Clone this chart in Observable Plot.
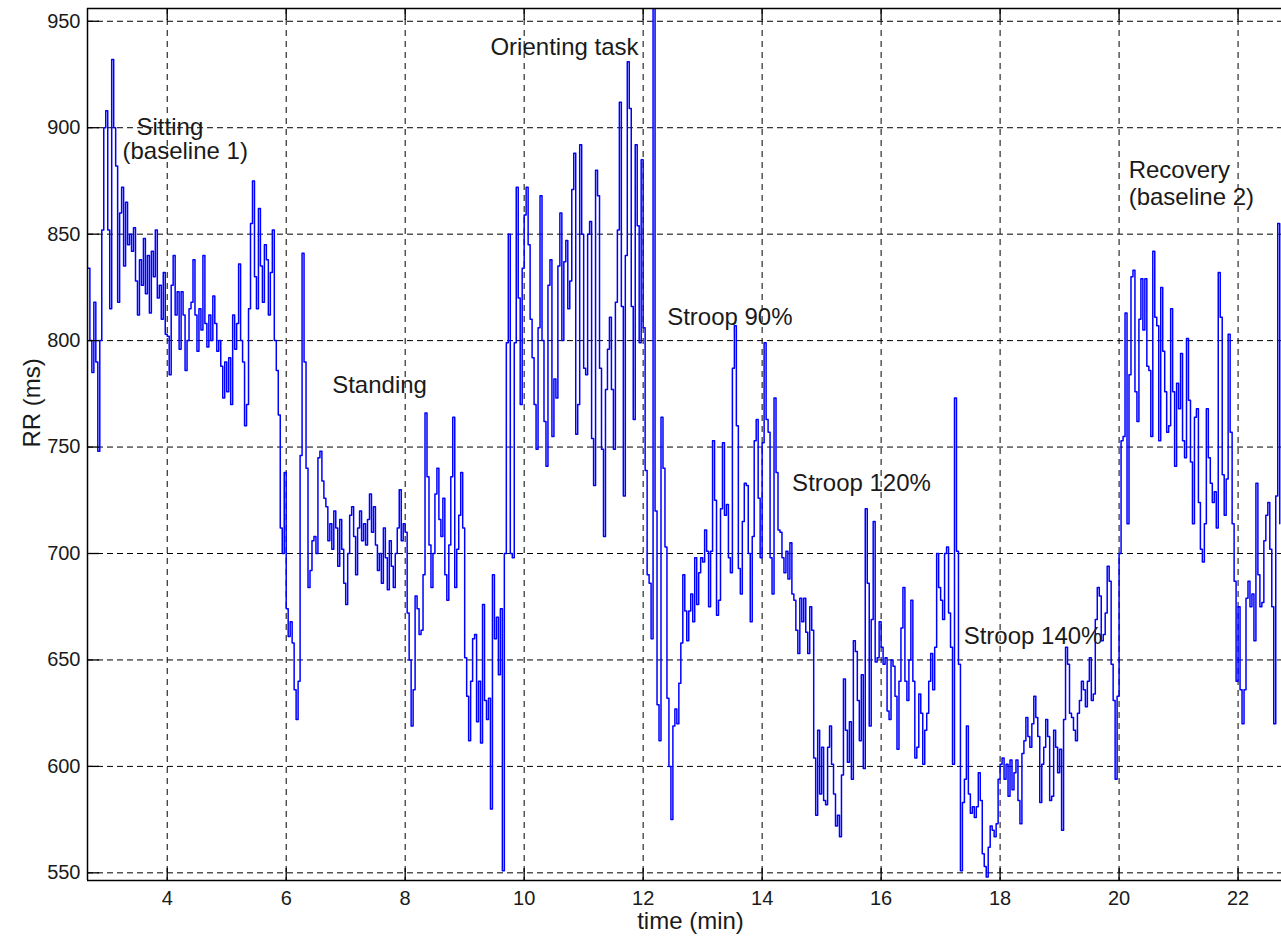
<!DOCTYPE html>
<html>
<head>
<meta charset="utf-8">
<title>RR tachogram</title>
<script src="https://cdn.jsdelivr.net/npm/d3@7"></script>
<script src="https://cdn.jsdelivr.net/npm/@observablehq/plot@0.6"></script>
<style>
  html, body { margin: 0; padding: 0; background: #ffffff; overflow: hidden; }
  #chart svg { display: block; }
</style>
</head>
<body>
<div id="chart"></div>
<script>
// RR intervals (ms), resampled every 2 s from 160 s onwards.
const startSeconds = 160;
const stepSeconds = 2;
const rrValues = [
  // 2.67 – 4 min
  834, 800, 785, 818, 790, 748, 800, 852, 900, 908, 852, 815, 932, 900, 882, 818, 860, 872, 835, 865,
  845, 850, 842, 853, 828, 812, 838, 826, 848, 822, 840, 813, 842, 830, 852, 820, 826, 810, 832, 803,
  // 4 – 5 min
  802, 784, 826, 840, 812, 823, 796, 823, 812, 786, 800, 815, 818, 838, 812, 795, 815, 805, 840, 808,
  797, 812, 800, 821, 808, 795, 800, 788, 773, 790,
  // 5 – 6 min
  776, 792, 770, 812, 796, 808, 836, 800, 790, 760, 770, 815, 855, 875, 830, 815, 862, 835, 818, 845,
  838, 812, 832, 852, 800, 786, 765, 712, 700, 738,
  // 6 – 7 min
  674, 661, 668, 658, 636, 622, 640, 746, 841, 790, 740, 684, 692, 706, 708, 700, 745, 748, 734, 726,
  722, 706, 714, 702, 720, 712, 694, 716, 702, 686,
  // 7 – 8 min
  676, 700, 718, 722, 708, 690, 712, 720, 706, 714, 704, 716, 728, 710, 722, 704, 692, 700, 686, 712,
  698, 683, 706, 694, 684, 700, 712, 730, 706, 714,
  // 8 – 9 min
  710, 672, 650, 619, 636, 680, 674, 662, 664, 690, 766, 736, 704, 684, 700, 728, 740, 716, 708, 726,
  690, 678, 704, 736, 764, 684, 702, 718, 738, 712,
  // 9 – 10 min
  651, 633, 612, 640, 660, 662, 621, 640, 611, 676, 631, 622, 632, 580, 690, 660, 670, 643, 674, 551,
  700, 799, 850, 700, 698, 799, 872, 820, 770, 834,
  // 10 – 11 min
  859, 872, 845, 810, 792, 770, 749, 806, 868, 800, 762, 741, 826, 838, 755, 782, 773, 835, 860, 800,
  837, 847, 815, 828, 871, 888, 756, 770, 892, 850,
  // 11 – 12 min
  787, 784, 850, 856, 754, 732, 880, 868, 787, 749, 708, 777, 796, 811, 777, 749, 818, 852, 912, 816,
  727, 840, 931, 909, 816, 763, 892, 854, 799, 885,
  // 12 – 13 min
  806, 739, 690, 686, 660, 958, 720, 629, 612, 764, 740, 703, 632, 600, 575, 619, 627, 620, 639, 658,
  690, 673, 659, 673, 681, 668, 698, 676, 691, 698,
  // 13 – 14 min
  696, 711, 701, 675, 701, 753, 725, 671, 678, 721, 752, 718, 723, 698, 691, 787, 807, 760, 693, 681,
  715, 733, 732, 700, 668, 708, 753, 763, 726, 698,
  // 14 – 15 min
  752, 799, 763, 757, 698, 681, 773, 738, 711, 710, 698, 691, 701, 688, 705, 681, 678, 664, 653, 679,
  668, 679, 663, 653, 675, 664, 604, 577, 617, 587,
  // 15 – 16 min
  609, 584, 582, 609, 619, 601, 587, 572, 577, 567, 596, 641, 617, 602, 621, 594, 659, 654, 631, 612,
  643, 599, 721, 686, 619, 669, 715, 649, 651, 668,
  // 16 – 17 min
  656, 648, 651, 626, 622, 650, 647, 633, 608, 640, 665, 684, 640, 631, 650, 678, 640, 604, 609, 634,
  625, 601, 617, 625, 640, 653, 636, 656, 700, 684,
  // 17 – 18 min
  678, 669, 700, 703, 672, 656, 601, 773, 701, 648, 551, 583, 594, 619, 587, 578, 581, 576, 581, 597,
  584, 559, 553, 548, 562, 572, 570, 567, 573, 594,
  // 18 – 19 min
  601, 604, 594, 601, 586, 603, 589, 597, 603, 584, 573, 606, 612, 623, 614, 609, 620, 633, 623, 614,
  583, 601, 609, 622, 614, 584, 586, 617, 609, 597,
  // 19 – 20 min
  608, 570, 622, 656, 648, 625, 623, 617, 612, 625, 631, 640, 636, 628, 640, 651, 631, 634, 669, 684,
  680, 659, 662, 672, 694, 687, 648, 631, 594, 633,
  // 20 – 21 min
  700, 753, 755, 813, 714, 784, 830, 833, 776, 762, 810, 829, 805, 829, 788, 786, 755, 842, 811, 807,
  753, 825, 795, 776, 757, 760, 815, 776, 741, 780,
  // 21 – 22 min
  768, 794, 753, 745, 801, 772, 743, 714, 764, 768, 724, 702, 696, 714, 768, 745, 733, 724, 729, 712,
  832, 811, 737, 718, 735, 803, 757, 714, 687, 640,
  // 22 – 22.7 min
  675, 636, 620, 636, 679, 687, 675, 681, 659, 733, 690, 675, 677, 706, 718, 724, 702, 675, 620, 727,
  855, 714
];

const xTicks = [4, 6, 8, 10, 12, 14, 16, 18, 20, 22];
const yTicks = [550, 600, 650, 700, 750, 800, 850, 900, 950];
const timeDomain = [2.66, 22.73];
const rrDomain = [546.4, 956];

// Protocol phases, anchored at (time in min, RR in ms) on the text baseline.
const phaseLabels = [
  {text: "Sitting", time: 3.484, rr: 896.8},
  {text: "(baseline 1)", time: 3.248, rr: 885.1},
  {text: "Standing", time: 6.773, rr: 775.6},
  {text: "Orienting task", time: 9.433, rr: 934.2},
  {text: "Stroop 90%", time: 12.403, rr: 807.1},
  {text: "Stroop 120%", time: 14.504, rr: 729.3},
  {text: "Stroop 140%", time: 17.388, rr: 657.6},
  {text: "Recovery", time: 20.161, rr: 876.3},
  {text: "(baseline 2)", time: 20.161, rr: 863.9}
];

const series = rrValues.map((rr, i) => ({time: (startSeconds + i * stepSeconds) / 60, rr}));

const width = 1281, height = 943;
const margin = {top: 8, right: 0, bottom: 63, left: 87};
const innerW = width - margin.left - margin.right;
const innerH = height - margin.top - margin.bottom;
const tickLen = 12;
const ink = "#1a1a1a";

const chart = Plot.plot({
  width, height,
  marginTop: margin.top, marginRight: margin.right,
  marginBottom: margin.bottom, marginLeft: margin.left,
  style: {
    fontFamily: '"Liberation Sans", Arial, Helvetica, sans-serif',
    fontSize: "20px",
    color: ink,
    background: "#ffffff"
  },
  x: {domain: timeDomain, ticks: xTicks, tickSize: 0, tickPadding: 10, label: null},
  y: {domain: rrDomain, ticks: yTicks, tickSize: 0, tickPadding: 7, label: null},
  marks: [
    // dashed grid
    Plot.ruleX(xTicks, {stroke: "#000", strokeWidth: 1, strokeDasharray: "6,5"}),
    Plot.ruleY(yTicks, {stroke: "#000", strokeWidth: 1, strokeDasharray: "6,4"}),
    // RR series
    Plot.line(series, {x: "time", y: "rr", curve: "step-after", stroke: "#0000ff", strokeWidth: 1.5, clip: true}),
    // inward tick marks (bottom, top, left)
    Plot.tickX(xTicks, {x: d => d, insetTop: innerH - tickLen, stroke: "#000", strokeWidth: 1.3}),
    Plot.tickX(xTicks, {x: d => d, insetBottom: innerH - tickLen, stroke: "#000", strokeWidth: 1.3}),
    Plot.tickY(yTicks, {y: d => d, insetRight: innerW - tickLen, stroke: "#000", strokeWidth: 1.3}),
    // axes box (left, top, bottom)
    Plot.ruleX([timeDomain[0]], {stroke: "#000", strokeWidth: 1.5}),
    Plot.ruleY(rrDomain, {stroke: "#000", strokeWidth: 1.5}),
    // phase annotations
    Plot.text(phaseLabels, {x: "time", y: "rr", text: "text", textAnchor: "start", lineAnchor: "bottom", fontSize: 24, fill: ink}),
    // axis titles
    Plot.text(["time (min)"], {text: d => d, frameAnchor: "bottom", lineAnchor: "bottom", dx: 6, dy: 48, fontSize: 24, fill: ink}),
    Plot.text(["RR (ms)"], {text: d => d, frameAnchor: "left", lineAnchor: "bottom", rotate: -90, dx: -47.5, dy: 3, fontSize: 24, fill: ink})
  ]
});

document.getElementById("chart").appendChild(chart);
</script>
</body>
</html>
